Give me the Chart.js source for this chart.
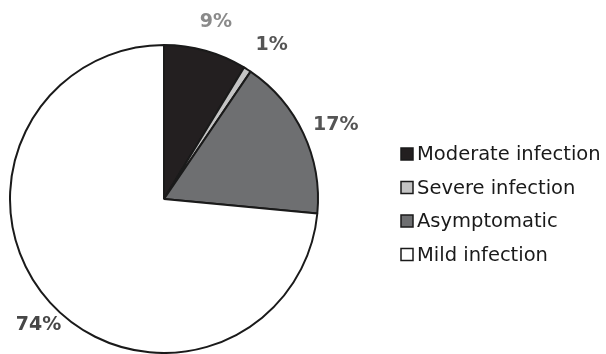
<!DOCTYPE html>
<html>
<head>
<meta charset="utf-8">
<script src="https://cdn.jsdelivr.net/npm/chart.js@4.4.1/dist/chart.umd.min.js"></script>
<style>
  html, body { margin: 0; padding: 0; background: #fff; }
  #wrap { width: 606px; height: 354px; position: relative; }
</style>
</head>
<body>
<div id="wrap"><canvas id="pie"></canvas></div>
<script>
  // datos (porcentajes)
  const categories = ["Moderate infection", "Severe infection", "Asymptomatic", "Mild infection"];
  const shares = [8.7, 0.8, 17.0, 73.5];
  const shareLabels = ["9%", "1%", "17%", "74%"];
  const sliceColors = ["#231f20", "#c4c4c4", "#6e6f71", "#ffffff"];

  const FONT = "DejaVu Sans";

  // etiquetas de porcentaje fuera del pastel
  const labelPlugin = {
    id: "outLabels",
    afterDatasetsDraw(chart) {
      const ctx = chart.ctx;
      const meta = chart.getDatasetMeta(0);
      const dist = [184, 188, 187, 178];
      const nudge = [0.7, 2.2, 1.9, -2.9]; // grados
      const tones = ["#8a8a8a", "#555555", "#555555", "#474747"];
      ctx.save();
      ctx.font = "bold 19px '" + FONT + "'";
      ctx.textAlign = "center";
      ctx.textBaseline = "middle";
      meta.data.forEach((arc, i) => {
        const mid = (arc.startAngle + arc.endAngle) / 2 + nudge[i] * Math.PI / 180;
        const x = arc.x + Math.cos(mid) * dist[i];
        const y = arc.y + Math.sin(mid) * dist[i];
        ctx.fillStyle = tones[i];
        ctx.fillText(shareLabels[i], x, y);
      });
      ctx.restore();
    },
  };

  // leyenda a la derecha
  const legendPlugin = {
    id: "sideLegend",
    afterDraw(chart) {
      const ctx = chart.ctx;
      ctx.save();
      ctx.font = "19.5px '" + FONT + "'";
      ctx.textBaseline = "middle";
      categories.forEach((name, i) => {
        const y = 154 + i * 33.5;
        ctx.fillStyle = sliceColors[i];
        ctx.fillRect(401, y - 6, 12, 12);
        ctx.strokeStyle = "#1a1a1a";
        ctx.lineWidth = 1.5;
        ctx.strokeRect(401, y - 6, 12, 12);
        ctx.fillStyle = "#1a1a1a";
        ctx.fillText(name, 417, y + 1);
      });
      ctx.restore();
    },
  };

  new Chart(document.getElementById("pie"), {
    type: "pie",
    data: {
      labels: categories,
      datasets: [{
        data: shares,
        backgroundColor: sliceColors,
        borderColor: "#1a1a1a",
        borderWidth: 2,
        borderAlign: "center",
      }],
    },
    options: {
      responsive: true,
      maintainAspectRatio: false,
      animation: false,
      radius: 154,
      layout: { padding: { left: 0, right: 278, top: 44, bottom: 0 } },
      plugins: { legend: { display: false }, tooltip: { enabled: false } },
    },
    plugins: [labelPlugin, legendPlugin],
  });
</script>
</body>
</html>
